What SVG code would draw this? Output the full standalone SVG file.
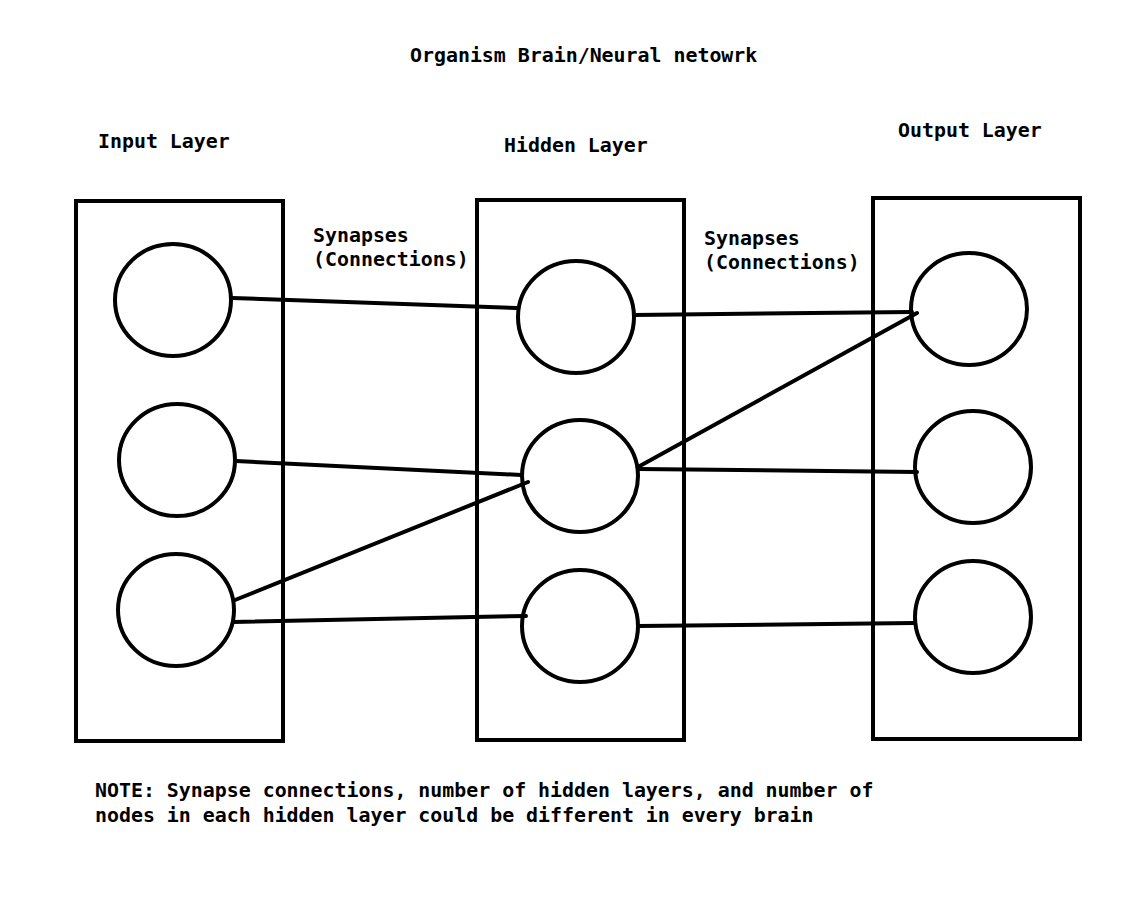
<svg xmlns="http://www.w3.org/2000/svg" width="1137" height="907" viewBox="0 0 1137 907">
<style>
text{font-family:"DejaVu Sans Mono","Liberation Mono",monospace;font-weight:bold;font-size:19.9px;fill:#000}
.box{fill:none;stroke:#000;stroke-width:4}
.node{fill:#fff;stroke:#000;stroke-width:4}
.syn{stroke:#000;stroke-width:4;stroke-linecap:round}
</style>
<rect width="1137" height="907" fill="#fff"/>
<text x="410" y="62">Organism Brain/Neural netowrk</text>
<text x="98" y="148">Input Layer</text>
<text x="504" y="152">Hidden Layer</text>
<text x="898" y="137">Output Layer</text>
<text x="313" y="242">Synapses</text>
<text x="313" y="266">(Connections)</text>
<text x="704" y="245">Synapses</text>
<text x="704" y="269">(Connections)</text>
<text x="95" y="797">NOTE: Synapse connections, number of hidden layers, and number of</text>
<text x="95" y="822">nodes in each hidden layer could be different in every brain</text>
<g id="input-layer"><rect class="box" x="76" y="201" width="207" height="540"/></g>
<g id="hidden-layer"><rect class="box" x="477" y="200" width="207" height="540"/></g>
<g id="output-layer"><rect class="box" x="873" y="198" width="207" height="541"/></g>
<g id="in1"><ellipse class="node" cx="173" cy="300" rx="58" ry="56"/></g>
<g id="in2"><ellipse class="node" cx="177" cy="460" rx="58" ry="56"/></g>
<g id="in3"><ellipse class="node" cx="176" cy="610" rx="58" ry="56"/></g>
<g id="h1"><ellipse class="node" cx="576" cy="317" rx="58" ry="56"/></g>
<g id="h2"><ellipse class="node" cx="580" cy="476" rx="58" ry="56"/></g>
<g id="h3"><ellipse class="node" cx="580" cy="626" rx="58" ry="56"/></g>
<g id="o1"><ellipse class="node" cx="969" cy="309" rx="58" ry="56"/></g>
<g id="o2"><ellipse class="node" cx="973" cy="467" rx="58" ry="56"/></g>
<g id="o3"><ellipse class="node" cx="973" cy="617" rx="58" ry="56"/></g>
<g id="connectors">
<line class="syn" x1="232" y1="298" x2="517" y2="308"/>
<line class="syn" x1="236" y1="461" x2="521" y2="475"/>
<line class="syn" x1="235" y1="600" x2="528" y2="482"/>
<line class="syn" x1="233" y1="622" x2="526" y2="616"/>
<line class="syn" x1="634" y1="315" x2="912" y2="312"/>
<line class="syn" x1="638" y1="467" x2="917" y2="313"/>
<line class="syn" x1="638" y1="469" x2="917" y2="472"/>
<line class="syn" x1="638" y1="626" x2="914" y2="623"/>
</g>
</svg>
